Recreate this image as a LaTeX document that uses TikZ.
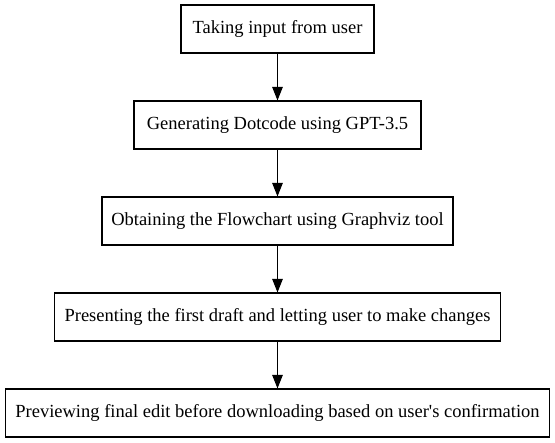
\documentclass[tikz,border=0pt]{standalone}
\usepackage{fontspec}
\setmainfont{Liberation Serif}
\usetikzlibrary{arrows.meta}
\tikzset{
  stepbox/.style={draw=black, line width=1.1bp, rectangle, minimum height=48bp, inner sep=0pt, font=\fontsize{18.5bp}{22bp}\selectfont},
  flow/.style={draw=black, line width=1.1bp, -{Triangle[length=13.5bp,width=10.5bp]}}
}
\begin{document}
\begin{tikzpicture}[x=1bp,y=-1bp]
\useasboundingbox[fill=white] (0,0) rectangle (555,443);
\node[stepbox, minimum width=193bp] (a) at (277.5,29) {Taking input from user};
\node[stepbox, minimum width=287bp] (b) at (277.5,125) {Generating Dotcode using GPT-3.5};
\node[stepbox, minimum width=351bp] (c) at (277.5,221) {Obtaining the Flowchart using Graphviz tool};
\node[stepbox, minimum width=446bp] (d) at (277.5,317) {Presenting the first draft and letting user to make changes};
\node[stepbox, minimum width=544bp] (e) at (277.5,413) {Previewing final edit before downloading based on user\textquotesingle s confirmation};
\draw[flow] (a.south) -- (b.north);
\draw[flow] (b.south) -- (c.north);
\draw[flow] (c.south) -- (d.north);
\draw[flow] (d.south) -- (e.north);
\end{tikzpicture}
\end{document}
